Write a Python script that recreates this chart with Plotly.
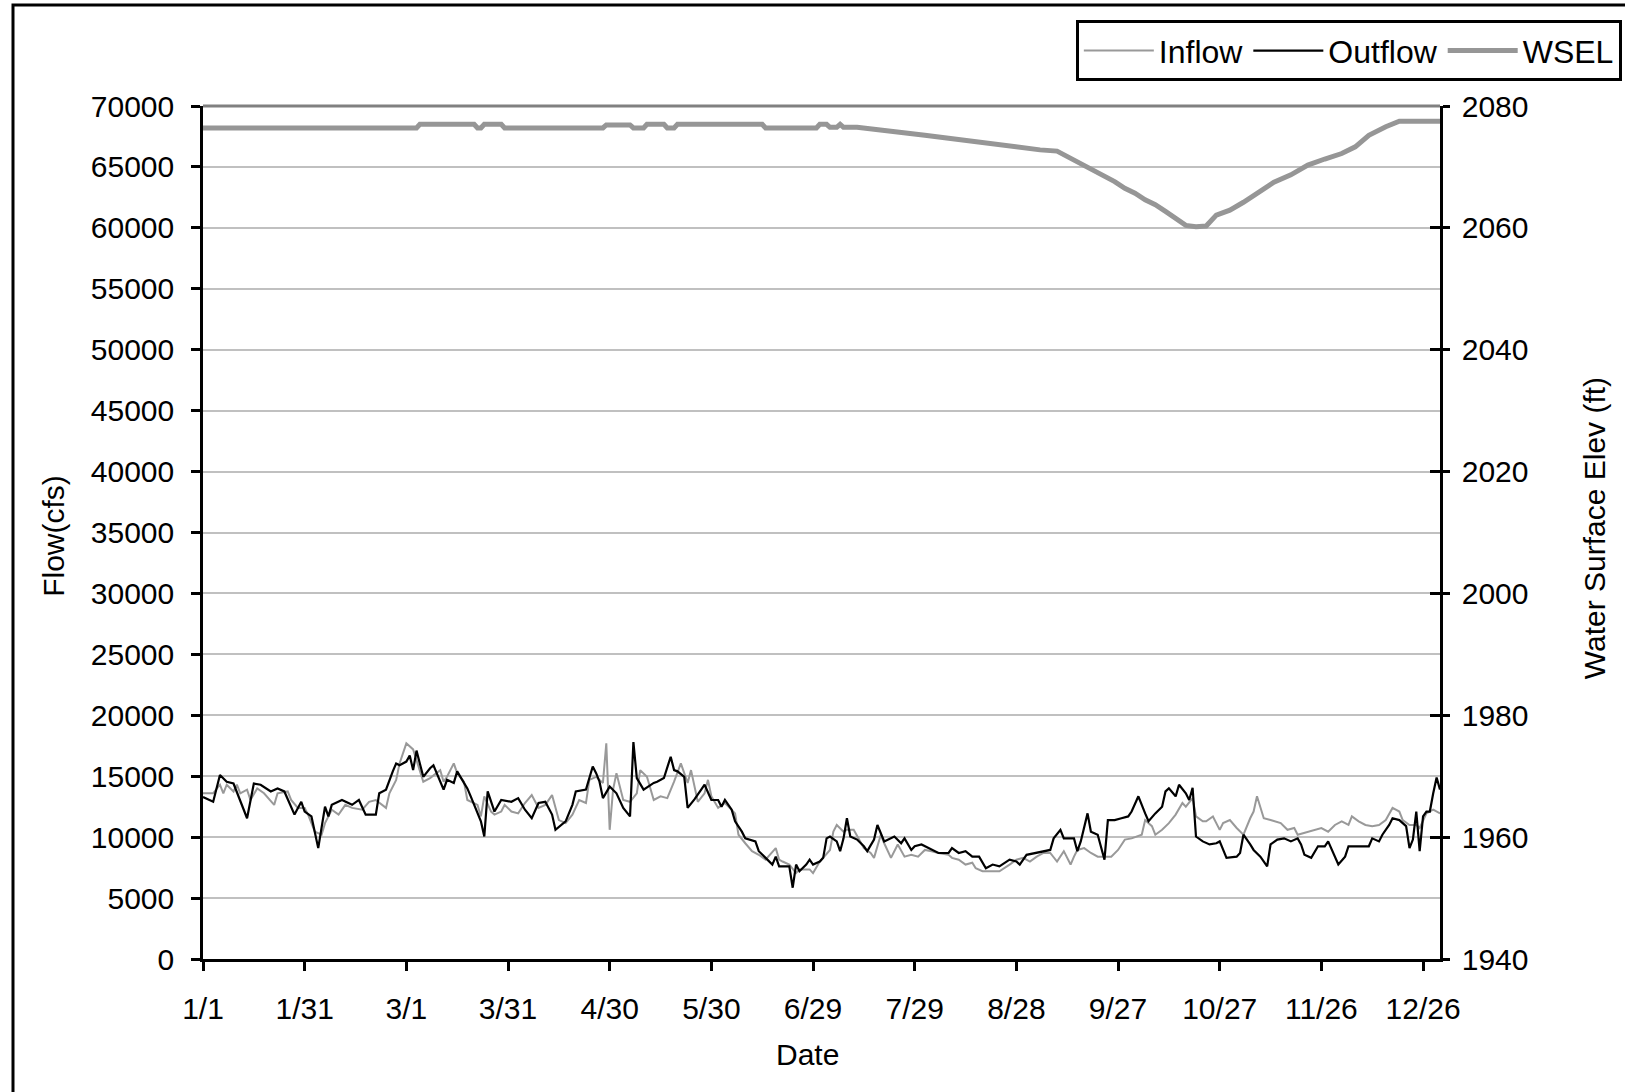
import pandas as pd
import plotly.graph_objects as go

# ---------------- data (day offset from Jan 1 of a leap year) ----------------
outflow_day = [0, 3, 5, 7, 9, 11, 13, 15, 17, 20, 22, 24, 27, 29, 30, 32, 34, 36, 37, 38,
               41, 44, 46, 48, 51, 52, 54, 56, 57, 58, 60, 61, 62, 63, 65, 67, 68, 71, 72, 74,
               75, 77, 78, 79, 81, 82, 83, 84, 86, 88, 91, 93, 95, 97, 99, 101, 103, 104, 107, 109,
               110, 113, 115, 116, 117, 118, 120, 121, 122, 124, 126, 127, 128, 130, 133, 134, 136, 138, 139, 140,
               142, 143, 145, 147, 148, 150, 152, 153, 154, 156, 157, 159, 160, 163, 164, 166, 168, 169, 170, 172,
               173, 174, 175, 176, 178, 179, 180, 182, 183, 184, 185, 187, 188, 189, 190, 191, 193, 195, 196, 198,
               199, 201, 203, 204, 206, 207, 209, 210, 212, 214, 215, 217, 220, 221, 223, 225, 227, 229, 231, 233,
               235, 238, 240, 241, 243, 246, 248, 250, 251, 253, 254, 257, 258, 259, 261, 262, 264, 266, 267, 269,
               271, 273, 274, 276, 278, 279, 281, 283, 284, 285, 287, 288, 290, 291, 292, 293, 295, 297, 299, 300,
               302, 305, 306, 307, 309, 310, 312, 314, 315, 317, 319, 321, 323, 324, 325, 327, 329, 331, 332, 334,
               335, 337, 338, 341, 344, 345, 347, 348, 350, 351, 353, 355, 356, 357, 358, 359, 360, 361, 362, 363,
               364, 365]
outflow_cfs = [13300, 12900, 15100, 14550, 14400, 13050, 11550, 14400, 14300, 13750, 14000, 13750, 11850, 12900, 12100, 11700, 9100, 12500, 11700, 12650,
               13050, 12650, 13050, 11850, 11850, 13600, 13900, 15400, 16050, 15900, 16200, 16700, 15500, 17100, 14950, 15650, 15900, 13900, 14700, 14450,
               15400, 14450, 14000, 13350, 11950, 11300, 10050, 13750, 12100, 13050, 12900, 13200, 12250, 11550, 12800, 12900, 11850, 10600, 11300, 12650,
               13750, 13900, 15800, 15250, 14550, 13200, 14150, 13900, 13600, 12400, 11700, 17800, 14850, 13900, 14450, 14550, 14850, 16600, 15500, 15400,
               14950, 12400, 13100, 13900, 14300, 13050, 13050, 12500, 13050, 12250, 11300, 10450, 9900, 9650, 8850, 8300, 7750, 8400, 7600, 7600,
               7600, 5850, 7750, 7200, 7750, 8150, 7750, 8000, 8300, 9900, 10050, 9650, 8850, 9900, 11550, 10050, 9800, 9250, 8850, 9800,
               11000, 9650, 9900, 10050, 9500, 9900, 8950, 9250, 9400, 9100, 8950, 8700, 8700, 9100, 8700, 8850, 8400, 8400, 7450, 7750,
               7600, 8150, 8000, 7750, 8550, 8700, 8850, 8950, 9900, 10600, 9900, 9900, 8850, 9650, 11950, 10450, 10200, 8150, 11400, 11400,
               11550, 11700, 12100, 13350, 11950, 11300, 11950, 12500, 13750, 14000, 13350, 14300, 13600, 13050, 14050, 10050, 9650, 9400, 9500, 9650,
               8300, 8400, 8700, 10200, 9400, 8950, 8400, 7600, 9400, 9800, 9900, 9650, 9900, 9400, 8550, 8300, 9250, 9250, 9650, 8300,
               7750, 8400, 9250, 9250, 9250, 9900, 9650, 10200, 11000, 11550, 11400, 10900, 9100, 9800, 12100, 8850, 11700, 12100, 12100, 13600,
               14900, 13900]

inflow_day = [0, 3, 5, 6, 7, 9, 10, 11, 13, 14, 16, 18, 21, 22, 25, 26, 28, 30, 31, 33,
              35, 36, 38, 40, 42, 44, 47, 49, 51, 54, 55, 57, 58, 60, 62, 64, 65, 67, 70, 71,
              72, 74, 75, 77, 78, 81, 82, 83, 85, 86, 88, 89, 91, 93, 95, 97, 99, 101, 103, 105,
              107, 109, 111, 113, 114, 116, 118, 119, 120, 121, 122, 124, 126, 128, 129, 131, 133, 135, 137, 139,
              141, 143, 144, 146, 148, 149, 150, 152, 154, 157, 158, 160, 162, 164, 166, 169, 170, 171, 173, 175,
              176, 179, 180, 182, 183, 185, 186, 187, 189, 190, 192, 194, 195, 197, 198, 200, 201, 203, 205, 207,
              209, 211, 213, 215, 217, 220, 221, 223, 225, 227, 228, 230, 232, 235, 238, 240, 242, 244, 246, 248,
              250, 252, 254, 256, 257, 258, 260, 262, 264, 266, 268, 270, 272, 274, 277, 278, 280, 281, 283, 285,
              287, 289, 290, 292, 293, 295, 296, 298, 300, 301, 303, 305, 307, 309, 310, 311, 313, 315, 316, 318,
              320, 322, 323, 325, 328, 330, 332, 334, 336, 338, 339, 341, 343, 345, 347, 349, 351, 353, 354, 356,
              358, 359, 361, 363, 365]
inflow_cfs = [13600, 13600, 14300, 13600, 14300, 13750, 14300, 13600, 13900, 13050, 14000, 13600, 12650, 13600, 13750, 13050, 12400, 12400, 11850, 10450,
              10200, 11150, 12250, 11850, 12650, 12400, 12250, 12900, 13050, 12400, 13600, 14700, 16050, 17700, 17200, 15500, 14550, 14850, 15500, 14550,
              14950, 16050, 15250, 14550, 13050, 12650, 11700, 13350, 12100, 11850, 12100, 12650, 12100, 11950, 12800, 13450, 12400, 12650, 13450, 11400,
              11150, 11850, 13050, 12800, 14700, 14950, 14450, 17700, 10600, 13900, 15250, 13050, 12900, 13600, 15500, 14950, 13050, 13350, 13200, 14550,
              16050, 14450, 15500, 12900, 13600, 14700, 13350, 12400, 12800, 11950, 10200, 9500, 8850, 8550, 8150, 9100, 8150, 8000, 7750, 7050,
              7350, 7350, 7050, 8000, 8300, 8950, 10450, 11000, 10450, 10600, 10600, 9650, 9100, 8700, 8300, 10200, 9500, 8300, 9400, 8400,
              8550, 8400, 8950, 8850, 8700, 8550, 8300, 8150, 7750, 7900, 7450, 7200, 7200, 7200, 7750, 8150, 8300, 8000, 8400, 8700,
              8700, 8000, 8850, 7750, 8400, 8950, 9100, 8700, 8400, 8400, 8400, 8950, 9800, 9900, 10200, 11400, 10900, 10200, 10600, 11150,
              11850, 12800, 12500, 13200, 11700, 11300, 11300, 11700, 10600, 11150, 11400, 10750, 10200, 11550, 12100, 13350, 11550, 11400, 11300, 11150,
              10600, 10750, 10200, 10350, 10600, 10750, 10450, 11000, 11300, 11000, 11700, 11300, 11000, 10900, 11000, 11400, 12400, 12100, 11400, 11000,
              11000, 10750, 11950, 12250, 11950]

wsel_day = [0, 63, 64, 80, 81, 82, 83, 88, 89, 118, 119, 126, 127, 130, 131, 136, 137, 139, 140, 165,
            166, 181, 182, 184, 185, 187, 188, 189, 193, 200, 207, 213, 220, 227, 233, 239, 247, 252, 254, 257,
            260, 263, 266, 269, 272, 275, 278, 281, 284, 287, 290, 293, 296, 299, 303, 307, 311, 316, 321, 326,
            331, 336, 340, 344, 349, 353, 365]
wsel_ft = [2076.4, 2076.4, 2077.0, 2077.0, 2076.4, 2076.4, 2077.0, 2077.0, 2076.4, 2076.4,
           2076.9, 2076.9, 2076.4, 2076.4, 2077.0, 2077.0, 2076.4, 2076.4, 2077.0, 2077.0,
           2076.4, 2076.4, 2077.0, 2077.0, 2076.5, 2076.5, 2077.0, 2076.5, 2076.5, 2076.1,
           2075.6, 2075.2, 2074.7, 2074.2, 2073.7, 2073.2, 2072.8, 2072.6, 2072.0, 2071.1,
           2070.4, 2069.5, 2068.4, 2067.6, 2066.5, 2065.7, 2064.6, 2063.8, 2062.7, 2061.6,
           2060.4, 2060.2, 2060.3, 2062.1, 2062.9, 2064.2, 2065.7, 2067.5, 2068.7, 2070.3,
           2071.3, 2072.2, 2073.3, 2075.2, 2076.6, 2077.5, 2077.5]

tick_labels = ["1/1", "1/31", "3/1", "3/31", "4/30", "5/30", "6/29", "7/29",
               "8/28", "9/27", "10/27", "11/26", "12/26"]

year_start = pd.Timestamp("2008-01-01")


def to_dates(days):
    return year_start + pd.to_timedelta(days, unit="D")


tick_vals = pd.date_range(year_start, periods=len(tick_labels), freq="30D")

FONT = "Arial, Liberation Sans, sans-serif"
FS = 30
LFS = 32

fig = go.Figure()
fig.add_trace(go.Scatter(x=to_dates(inflow_day), y=inflow_cfs, name="Inflow", mode="lines",
                         line=dict(color="#999999", width=2)))
fig.add_trace(go.Scatter(x=to_dates(outflow_day), y=outflow_cfs, name="Outflow", mode="lines",
                         line=dict(color="#000000", width=2.2)))
fig.add_trace(go.Scatter(x=to_dates(wsel_day), y=wsel_ft, name="WSEL", mode="lines",
                         line=dict(color="#969696", width=5), yaxis="y2"))

fig.update_layout(
    width=1625, height=1092,
    margin=dict(l=203, r=185, t=106, b=133, autoexpand=False),
    paper_bgcolor="white", plot_bgcolor="white",
    font=dict(family=FONT, size=FS, color="black"),
    showlegend=True,
    legend=dict(orientation="h", x=1.147, xanchor="right", y=1.1005, yanchor="top",
                bordercolor="black", borderwidth=3, bgcolor="white",
                font=dict(family=FONT, size=LFS, color="black"),
                itemwidth=70, tracegroupgap=0),
    xaxis=dict(type="date", range=[year_start, year_start + pd.Timedelta(days=365)],
               tickvals=tick_vals, ticktext=tick_labels, showgrid=False,
               showline=True, linecolor="black", linewidth=2.5,
               ticks="outside", ticklen=9, tickwidth=2.5, tickcolor="black",
               ticklabelstandoff=12, zeroline=False, automargin=False),
    yaxis=dict(range=[0, 70000], dtick=5000, tickformat="d", showgrid=True,
               gridcolor="#c0c0c0", gridwidth=2, showline=True, linecolor="black", linewidth=2.5,
               ticks="outside", ticklen=9, tickwidth=2.5, tickcolor="black",
               ticklabelstandoff=11, zeroline=False, automargin=False),
    yaxis2=dict(range=[1940, 2080], dtick=20, overlaying="y", side="right", anchor="x",
                showgrid=False, showline=True, linecolor="black", linewidth=2.5,
                ticks="outside", ticklen=7, tickwidth=2.5, tickcolor="black",
                ticklabelstandoff=6, zeroline=False, tickformat="d", automargin=False),
    yaxis3=dict(range=[1940, 2080], dtick=20, overlaying="y", side="right", anchor="x",
                showgrid=False, showline=False, showticklabels=False,
                ticks="inside", ticklen=10, tickwidth=2.5, tickcolor="black", zeroline=False,
                automargin=False),
)

# invisible trace to activate the inner tick axis
fig.add_trace(go.Scatter(x=[year_start], y=[1940], yaxis="y3", mode="markers",
                         marker=dict(opacity=0), showlegend=False, hoverinfo="skip"))

# darker top line at 70000
fig.add_shape(type="line", xref="paper", yref="paper", x0=0, x1=1, y0=1, y1=1,
              line=dict(color="#808080", width=3), layer="above")
# chart outer border (partially cropped)
fig.add_shape(type="rect", xref="paper", yref="paper", x0=-0.1536, x1=1.3, y0=-0.4, y1=1.1184,
              line=dict(color="black", width=3), layer="below")

fig.add_annotation(text="Flow(cfs)", xref="paper", yref="paper", x=-0.1205, y=0.496,
                   textangle=-90, showarrow=False, xanchor="center", yanchor="middle",
                   font=dict(family=FONT, size=FS))
fig.add_annotation(text="Water Surface Elev (ft)", xref="paper", yref="paper", x=1.1245, y=0.505,
                   textangle=-90, showarrow=False, xanchor="center", yanchor="middle",
                   font=dict(family=FONT, size=FS))
fig.add_annotation(text="Date", xref="paper", yref="paper", x=0.489, y=-0.1125,
                   showarrow=False, xanchor="center", yanchor="middle",
                   font=dict(family=FONT, size=FS))

fig.write_html("out.html", config={"displayModeBar": False},
               post_script="document.body.style.margin='0';document.body.style.overflow='hidden';")
